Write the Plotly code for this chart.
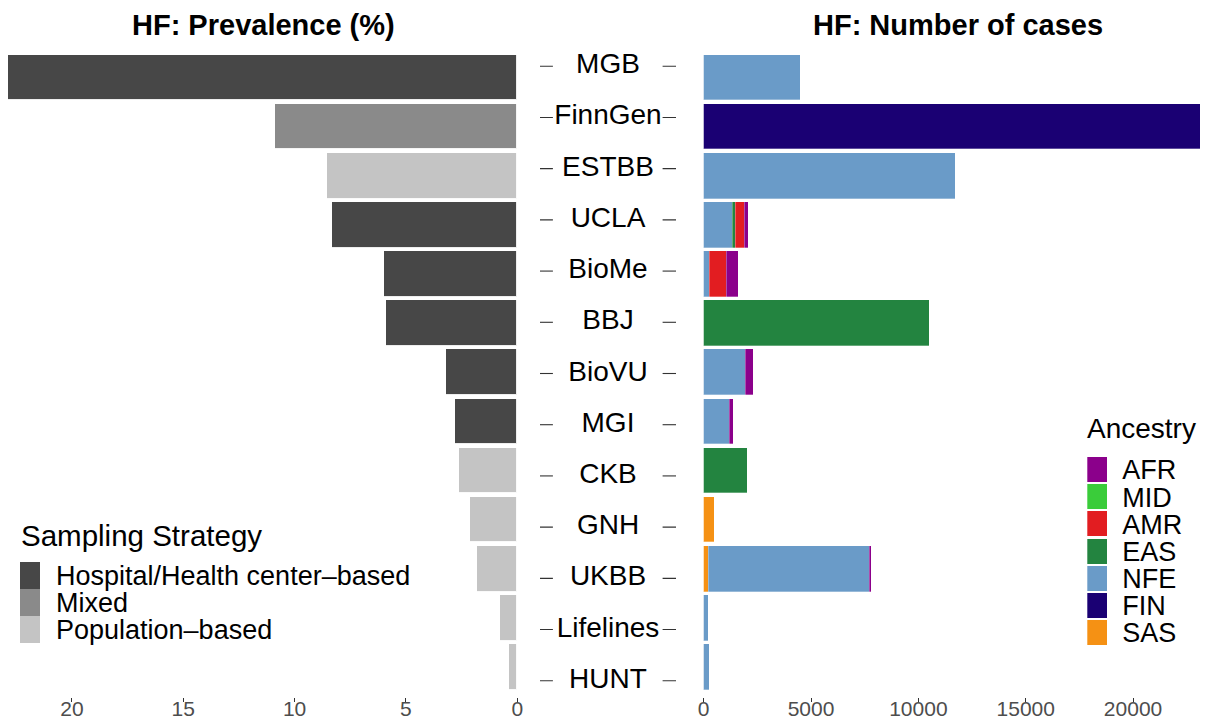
import plotly.graph_objects as go

# ---------------- data ----------------
cohorts = ["MGB", "FinnGen", "ESTBB", "UCLA", "BioMe", "BBJ", "BioVU",
           "MGI", "CKB", "GNH", "UKBB", "Lifelines", "HUNT"]
prevalence = [22.86, 10.88, 8.55, 8.33, 6.00, 5.91, 3.22,
              2.81, 2.60, 2.14, 1.82, 0.78, 0.37]
sampling = ["Hospital/Health center\u2013based", "Mixed", "Population\u2013based",
            "Hospital/Health center\u2013based", "Hospital/Health center\u2013based",
            "Hospital/Health center\u2013based", "Hospital/Health center\u2013based",
            "Hospital/Health center\u2013based", "Population\u2013based",
            "Population\u2013based", "Population\u2013based", "Population\u2013based",
            "Population\u2013based"]
sampling_levels = ["Hospital/Health center\u2013based", "Mixed", "Population\u2013based"]

ancestry_levels = ["AFR", "MID", "AMR", "EAS", "NFE", "FIN", "SAS"]
cases_AFR = [0, 0, 0, 153, 526, 0, 373, 172, 0, 0, 112, 0, 0]
cases_MID = [0, 0, 0, 0, 0, 0, 0, 0, 0, 0, 0, 0, 0]
cases_AMR = [0, 0, 0, 420, 792, 0, 0, 0, 0, 0, 0, 0, 0]
cases_EAS = [0, 0, 0, 154, 0, 10545, 0, 0, 2032, 0, 0, 0, 0]
cases_NFE = [4500, 0, 11757, 1351, 294, 0, 1971, 1226, 0, 0, 7470, 247, 294]
cases_FIN = [0, 28000, 0, 0, 0, 0, 0, 0, 0, 0, 0, 0, 0]
cases_SAS = [0, 0, 0, 0, 0, 0, 0, 0, 0, 494, 247, 0, 0]

prev_ticks = [0, 5, 10, 15, 20]
case_ticks = [0, 5000, 10000, 15000, 20000]

# ---------------- styles ----------------
# the page body has an 8px margin, so the figure is placed at (8, 8)
OFF = 8
W, H = 1208 - OFF, 723 - OFF
FONT = "Liberation Sans, Arial, Helvetica, sans-serif"
sampling_colors = {
    "Hospital/Health center\u2013based": "#474747",
    "Mixed": "#8a8a8a",
    "Population\u2013based": "#c4c4c4",
}
ancestry_colors = {
    "AFR": "#8B008B", "MID": "#3ACC3A", "AMR": "#E21D21", "EAS": "#238440",
    "NFE": "#6A9BC8", "FIN": "#1A0073", "SAS": "#F59114",
}
cases_by_anc = {"AFR": cases_AFR, "MID": cases_MID, "AMR": cases_AMR,
                "EAS": cases_EAS, "NFE": cases_NFE, "FIN": cases_FIN,
                "SAS": cases_SAS}


def fx(px):
    return min(max((px - OFF) / W, 0), 1)


def fy(py):
    return min(max(1 - (py - OFF) / H, 0), 1)


fig = go.Figure()

# left: prevalence
fig.add_trace(go.Bar(
    x=prevalence, y=cohorts, orientation="h", width=0.93,
    marker=dict(color=[sampling_colors[s] for s in sampling],
                line=dict(color="rgba(255,255,255,0.9)", width=1)),
    xaxis="x", yaxis="y", showlegend=False, hoverinfo="skip"))

# right: stacked cases (stack order left->right = reverse legend order)
for anc in reversed(ancestry_levels):
    fig.add_trace(go.Bar(
        x=cases_by_anc[anc], y=cohorts, orientation="h", width=0.93,
        marker=dict(color=ancestry_colors[anc],
                    line=dict(color="rgba(255,255,255,0.5)", width=0.6)),
        xaxis="x2", yaxis="y2", showlegend=False, hoverinfo="skip"))

# middle: cohort labels with tick dashes (own panel, slightly taller)
MID_W = 136
fig.add_trace(go.Scatter(
    x=[MID_W / 2] * len(cohorts), y=cohorts, mode="text", text=cohorts,
    textposition="middle center",
    textfont=dict(family=FONT, size=28, color="#000000"),
    xaxis="x3", yaxis="y3", showlegend=False, hoverinfo="skip"))
for xpos in (4.5, MID_W - 5):
    fig.add_trace(go.Scatter(
        x=[xpos] * len(cohorts), y=cohorts, mode="markers",
        marker=dict(symbol="line-ew", size=12,
                    line=dict(color="#333333", width=1.1)),
        xaxis="x3", yaxis="y3", showlegend=False, hoverinfo="skip"))

# legend: sampling strategy (mini panel)
fig.add_trace(go.Bar(
    x=[1] * len(sampling_levels), y=sampling_levels, orientation="h", width=1,
    marker=dict(color=[sampling_colors[s] for s in sampling_levels],
                line=dict(width=0)),
    xaxis="x4", yaxis="y4", showlegend=False, hoverinfo="skip"))

# legend: ancestry (mini panel)
fig.add_trace(go.Bar(
    x=[1] * len(ancestry_levels), y=ancestry_levels, orientation="h", width=0.92,
    marker=dict(color=[ancestry_colors[a] for a in ancestry_levels],
                line=dict(width=0)),
    xaxis="x5", yaxis="y5", showlegend=False, hoverinfo="skip"))

panel_y = [fy(696.5), fy(48)]
mid_y = [fy(711.5), fy(35.5)]
ncat = len(cohorts)
yrange = [ncat - 1 + 0.6, -0.6]
tickfont = dict(family=FONT, size=21, color="#4d4d4d")
hidden = dict(visible=False, showgrid=False, zeroline=False)
legend_font = dict(family=FONT, size=27, color="#000000")
title_font = dict(family=FONT, size=29, color="#000000", weight="bold")

fig.update_layout(
    width=W, height=H,
    margin=dict(l=0, r=0, t=0, b=0, autoexpand=False),
    paper_bgcolor="white", plot_bgcolor="white",
    barmode="stack", bargap=0,
    font=dict(family=FONT),
    hovermode=False,
    xaxis=dict(domain=[fx(8), fx(517.3)], range=[22.87, 0], anchor="y",
               tickvals=prev_ticks, ticks="outside", ticklen=4, tickwidth=1,
               tickcolor="#333333", tickfont=tickfont, showgrid=False,
               zeroline=False, showline=False, ticklabelstandoff=-11),
    yaxis=dict(domain=panel_y, type="category", categoryarray=cohorts,
               range=yrange, anchor="x", showticklabels=False, showgrid=False,
               zeroline=False, showline=False, ticks=""),
    xaxis2=dict(domain=[fx(703.7), 1], range=[0, 23490], anchor="y2",
                tickvals=case_ticks, tickformat="d", ticks="outside",
                ticklen=4, tickwidth=1, tickcolor="#333333",
                tickfont=tickfont, showgrid=False, zeroline=False,
                showline=False, ticklabelstandoff=-11),
    yaxis2=dict(domain=panel_y, type="category", categoryarray=cohorts,
                range=yrange, anchor="x2", showticklabels=False,
                showgrid=False, zeroline=False, showline=False, ticks=""),
    xaxis3=dict(domain=[fx(540), fx(676)], range=[0, MID_W], anchor="y3",
                **hidden),
    yaxis3=dict(domain=mid_y, type="category", categoryarray=cohorts,
                range=yrange, anchor="x3", **hidden),
    xaxis4=dict(domain=[fx(20), fx(40)], range=[0, 1], anchor="y4", **hidden),
    yaxis4=dict(domain=[fy(643), fy(561.7)], type="category",
                categoryarray=sampling_levels, range=[2.5, -0.5],
                tickmode="array", tickvals=sampling_levels,
                anchor="x4", side="right", showticklabels=True, ticks="",
                ticklabelstandoff=15, showgrid=False, zeroline=False,
                showline=False, tickfont=legend_font),
    xaxis5=dict(domain=[fx(1087.3), fx(1107.3)], range=[0, 1], anchor="y5",
                **hidden),
    yaxis5=dict(domain=[fy(646.6), fy(456.4)], type="category",
                categoryarray=ancestry_levels, range=[6.5, -0.5],
                tickmode="array", tickvals=ancestry_levels,
                anchor="x5", side="right", showticklabels=True, ticks="",
                ticklabelstandoff=14, showgrid=False, zeroline=False,
                showline=False, tickfont=legend_font),
    annotations=[
        dict(text="HF: Prevalence (%)", x=fx(263), y=fy(25), xref="paper",
             yref="paper", xanchor="center", yanchor="middle", showarrow=False,
             font=title_font),
        dict(text="HF: Number of cases", x=fx(958), y=fy(25), xref="paper",
             yref="paper", xanchor="center", yanchor="middle", showarrow=False,
             font=title_font),
        dict(text="Sampling Strategy", x=fx(19), y=fy(535), xref="paper",
             yref="paper", xanchor="left", yanchor="middle", showarrow=False,
             font=dict(family=FONT, size=29.5, color="#000000")),
        dict(text="Ancestry", x=fx(1085), y=fy(429), xref="paper",
             yref="paper", xanchor="left", yanchor="middle", showarrow=False,
             font=dict(family=FONT, size=28, color="#000000")),
    ],
)

fig.write_html("out.html")
